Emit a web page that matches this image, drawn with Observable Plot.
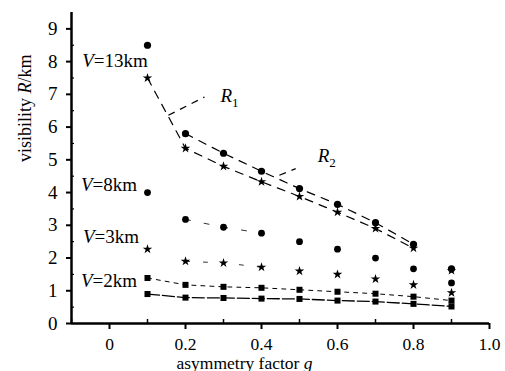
<!DOCTYPE html>
<html><head><meta charset="utf-8">
<script src="https://cdn.jsdelivr.net/npm/d3@7"></script>
<script src="https://cdn.jsdelivr.net/npm/@observablehq/plot@0.6"></script>
<style>body{margin:0;background:#fff;} svg{display:block}</style>
</head><body><div id="chart"></div>
<script>
// asymmetry factor g
const g = [0.1, 0.2, 0.3, 0.4, 0.5, 0.6, 0.7, 0.8, 0.9];
// visibility R (km)
const v13R1 = [8.5, 5.8, 5.2, 4.65, 4.12, 3.64, 3.08, 2.42, 1.67];
const v13R2 = [7.5, 5.35, 4.8, 4.33, 3.88, 3.4, 2.9, 2.3, 1.62];
const v8 = [4.0, 3.18, 2.94, 2.76, 2.5, 2.27, 2.0, 1.67, 1.24];
const v3 = [2.27, 1.9, 1.85, 1.72, 1.6, 1.5, 1.36, 1.18, 0.94];
const v2a = [1.39, 1.18, 1.12, 1.09, 1.03, 0.97, 0.91, 0.82, 0.7];
const v2b = [0.9, 0.79, 0.78, 0.76, 0.75, 0.7, 0.67, 0.6, 0.52];
const xTicks = [0, 0.2, 0.4, 0.6, 0.8, 1.0];
const xMinor = [-0.1, 0.1, 0.3, 0.5, 0.7, 0.9];
const yTicks = [0, 1, 2, 3, 4, 5, 6, 7, 8, 9];
const yMinor = [0.5, 1.5, 2.5, 3.5, 4.5, 5.5, 6.5, 7.5, 8.5];
const seriesLabels = ["V=13km", "V=8km", "V=3km", "V=2km"];
const curveLabels = ["R1", "R2"];

const rows = (vals) => vals.map((v, i) => ({g: g[i], R: v}));
const font = "'Liberation Serif', 'DejaVu Serif', serif";

// annotation placement (data units)
const seriesLabelPos = [
  {g: -0.072, R: 7.83}, {g: -0.075, R: 4.04}, {g: -0.070, R: 2.45}, {g: -0.075, R: 1.10}
];
const curveLabelPos = [{g: 0.292, R: 6.78}, {g: 0.548, R: 4.92}];
const leaders = [
  {x1: 0.155, y1: 6.36, x2: 0.25, y2: 6.92},
  {x1: 0.447, y1: 4.53, x2: 0.49, y2: 4.73}
];
const labelRows = seriesLabels.map((t, i) => ({text: t, ...seriesLabelPos[i]}));
const curveRows = curveLabels.map((t, i) => ({text: t, ...curveLabelPos[i]}));

const inRange = (lo, hi) => (d) => d.g >= lo - 1e-9 && d.g <= hi + 1e-9;

const chart = Plot.plot({
  width: 505, height: 371,
  marginLeft: 71, marginRight: 16, marginTop: 12, marginBottom: 48,
  style: {fontFamily: font, fontSize: "18px", background: "white", color: "black"},
  x: {domain: [-0.1, 1.0]},
  y: {domain: [0, 9.5]},
  marks: [
    Plot.axisX(xTicks, {tickSize: 6, tickPadding: 8, strokeWidth: 2, tickFormat: d => d === 0 ? "0" : d.toFixed(1), label: null, fontSize: 17.5, fontFamily: font}),
    Plot.axisX(xMinor, {tickSize: -4, strokeWidth: 1.5, tickFormat: () => "", label: null}),
    Plot.axisY(yTicks, {tickSize: 5, tickPadding: 9, strokeWidth: 2, label: null, fontSize: 19, fontFamily: font}),
    Plot.axisY(yMinor, {tickSize: -3, strokeWidth: 1.2, tickFormat: () => "", label: null}),
    Plot.ruleX([-0.1], {strokeWidth: 2.5}),
    Plot.ruleY([0], {strokeWidth: 2.5}),
    // curves
    Plot.line(rows(v13R1).filter(inRange(0.2, 0.8)), {x: "g", y: "R", strokeWidth: 1.2, strokeDasharray: "8,7"}),
    Plot.line(rows(v13R2).filter(inRange(0.1, 0.8)), {x: "g", y: "R", strokeWidth: 1.2, strokeDasharray: "8,7"}),
    Plot.line(rows(v8).filter(inRange(0.2, 0.4)), {x: "g", y: "R", strokeWidth: 1, strokeDasharray: "5,14", strokeOpacity: 0.8}),
    Plot.line(rows(v3).filter(inRange(0.2, 0.4)), {x: "g", y: "R", strokeWidth: 1, strokeDasharray: "4,14", strokeOpacity: 0.8}),
    Plot.line(rows(v2a), {x: "g", y: "R", strokeWidth: 1, strokeDasharray: "4,5"}),
    Plot.line(rows(v2b), {x: "g", y: "R", strokeWidth: 1.3, strokeDasharray: "12,3"}),
    // points
    Plot.dot(rows(v13R1), {x: "g", y: "R", r: 3.6, fill: "black", stroke: "none"}),
    Plot.dot(rows(v13R2), {x: "g", y: "R", symbol: "star", r: 3, fill: "black", stroke: "none"}),
    Plot.dot(rows(v8), {x: "g", y: "R", r: 3.4, fill: "black", stroke: "none"}),
    Plot.dot(rows(v3), {x: "g", y: "R", symbol: "star", r: 3, fill: "black", stroke: "none"}),
    Plot.dot(rows(v2a), {x: "g", y: "R", symbol: "square", r: 3.4, fill: "black", stroke: "none"}),
    Plot.dot(rows(v2b), {x: "g", y: "R", symbol: "square", r: 3.4, fill: "black", stroke: "none"}),
    // annotations
    Plot.link(leaders, {x1: "x1", y1: "y1", x2: "x2", y2: "y2", strokeWidth: 1.2, strokeDasharray: "7,6"}),
    Plot.text(labelRows, {x: "g", y: "R", text: "text", textAnchor: "start", lineAnchor: "bottom", fontSize: 19, fontFamily: font}),
    Plot.text(curveRows, {x: "g", y: "R", text: "text", textAnchor: "start", lineAnchor: "bottom", fontSize: 19, fontFamily: font}),
    Plot.text(["visibility R/km"], {frameAnchor: "left", rotate: -90, dx: -46, dy: -6, text: d => d, fontSize: 18, fontFamily: font}),
    Plot.text(["asymmetry factor g"], {frameAnchor: "bottom", lineAnchor: "bottom", dx: -36, dy: 45, text: d => d, fontSize: 17.5, fontFamily: font})
  ]
});

// italic variables / subscripts; force serif face on all text
d3.select(chart).selectAll("text").attr("font-family", font).each(function () {
  const t = this.textContent;
  const el = d3.select(this);
  let m;
  if ((m = /^V(=.*)$/.exec(t))) {
    el.text(null);
    el.append("tspan").attr("font-style", "italic").text("V");
    el.append("tspan").text(m[1]);
  } else if ((m = /^R(\d)$/.exec(t))) {
    el.text(null);
    el.append("tspan").attr("font-style", "italic").text("R");
    el.append("tspan").attr("font-size", "13px").attr("dy", "5").text(m[1]);
  } else if (t === "visibility R/km") {
    el.text(null);
    el.append("tspan").text("visibility ");
    el.append("tspan").attr("font-style", "italic").text("R");
    el.append("tspan").text("/km");
  } else if (t === "asymmetry factor g") {
    el.text(null);
    el.append("tspan").text("asymmetry factor ");
    el.append("tspan").attr("font-style", "italic").text("g");
  }
});

document.getElementById("chart").appendChild(chart);
</script>
</body></html>
